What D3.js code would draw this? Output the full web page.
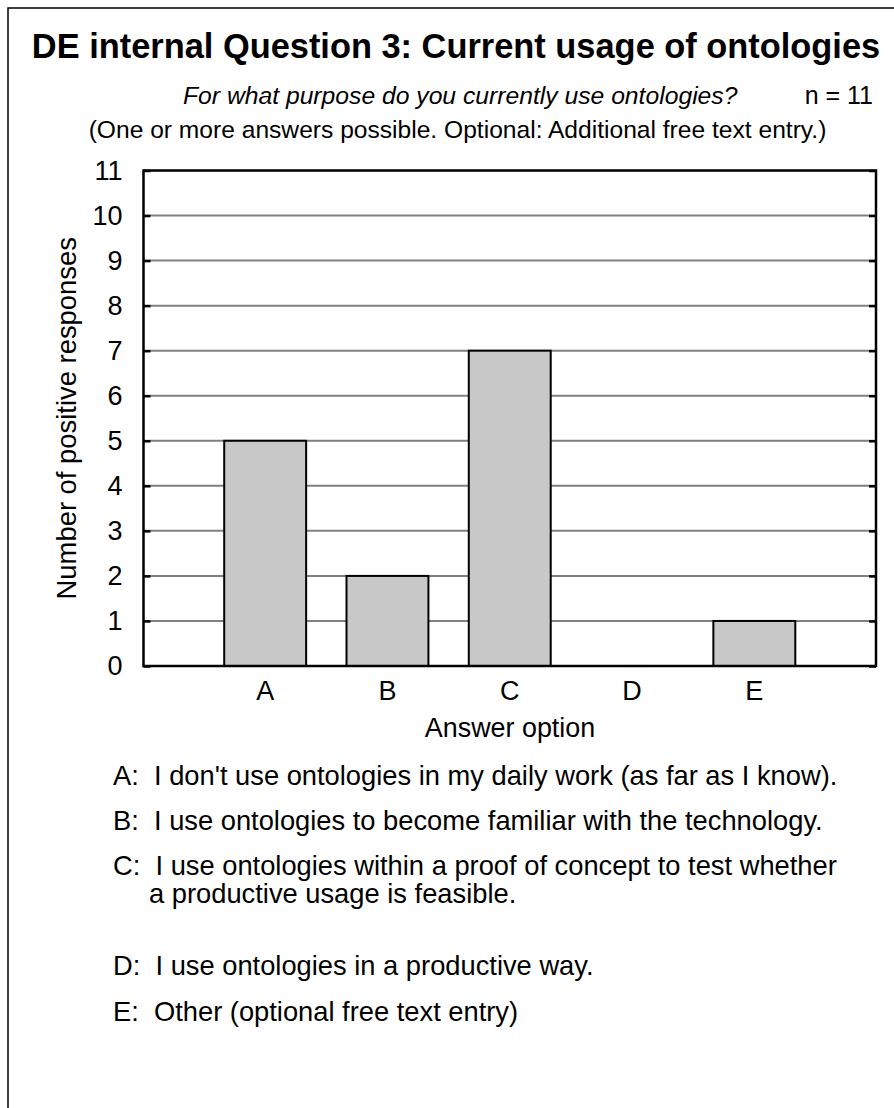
<!DOCTYPE html>
<meta charset="utf-8">
<style>
body { margin: 0; background: #fff; }
svg text { font-family: "Liberation Sans", Arial, sans-serif; fill: #000; }
.grid line { stroke: #808080; stroke-width: 2px; }
.bar { fill: #c8c8c8; stroke: #000; stroke-width: 2px; }
.frame { fill: none; stroke: #000; stroke-width: 2.5px; }
</style>
<body>
<div id="chart"></div>
</body>
<script src="https://d3js.org/d3.v7.min.js"></script>
<script>

// data
var categories = ["A", "B", "C", "D", "E"];
var counts = [5, 2, 7, 0, 1];
var yTicks = [0, 1, 2, 3, 4, 5, 6, 7, 8, 9, 10, 11];
var descriptions = [
  ["A:  I don't use ontologies in my daily work (as far as I know)."],
  ["B:  I use ontologies to become familiar with the technology."],
  ["C:  I use ontologies within a proof of concept to test whether", "a productive usage is feasible."],
  ["D:  I use ontologies in a productive way."],
  ["E:  Other (optional free text entry)"]
];

var width = 894, height = 1108;
var plot = {left: 143.5, right: 876, top: 170.5, bottom: 666};

var svg = d3.select("#chart").append("svg")
    .attr("width", width)
    .attr("height", height);

// outer border (runs off the right and bottom of the picture)
svg.append("rect")
    .attr("x", 8).attr("y", 8)
    .attr("width", 910).attr("height", 1130)
    .attr("fill", "none")
    .attr("stroke", "#000")
    .attr("stroke-width", 1.5);

// titles
svg.append("text")
    .attr("x", 456).attr("y", 58)
    .attr("text-anchor", "middle")
    .style("font-size", "34.4px")
    .style("font-weight", "bold")
    .text("DE internal Question 3: Current usage of ontologies");

svg.append("text")
    .attr("x", 183).attr("y", 104)
    .style("font-size", "24.7px")
    .style("font-style", "italic")
    .text("For what purpose do you currently use ontologies?");

svg.append("text")
    .attr("x", 873).attr("y", 104)
    .attr("text-anchor", "end")
    .style("font-size", "25px")
    .text("n = 11");

svg.append("text")
    .attr("x", 457.5).attr("y", 138)
    .attr("text-anchor", "middle")
    .style("font-size", "24.6px")
    .text("(One or more answers possible. Optional: Additional free text entry.)");

// scales
var x = d3.scaleBand()
    .domain(categories)
    .range([plot.left, plot.right])
    .paddingInner(0.33)
    .paddingOuter(0.66);

var y = d3.scaleLinear()
    .domain([0, 11])
    .range([plot.bottom, plot.top]);

// gridlines
svg.append("g")
    .attr("class", "grid")
  .selectAll("line")
    .data(yTicks.filter(function(d) { return d > 0 && d < 11; }))
  .enter().append("line")
    .attr("x1", plot.left).attr("x2", plot.right)
    .attr("y1", function(d) { return y(d); })
    .attr("y2", function(d) { return y(d); });

// bars
svg.selectAll(".bar")
    .data(counts)
  .enter().append("rect")
    .attr("class", "bar")
    .attr("x", function(d, i) { return x(categories[i]); })
    .attr("width", x.bandwidth())
    .attr("y", function(d) { return y(d); })
    .attr("height", function(d) { return y(0) - y(d); })
    .style("display", function(d) { return d > 0 ? null : "none"; });

// frame + inward ticks
svg.append("rect")
    .attr("class", "frame")
    .attr("x", plot.left).attr("y", plot.top)
    .attr("width", plot.right - plot.left)
    .attr("height", plot.bottom - plot.top);

var leftAxis = d3.axisLeft(y).tickValues(yTicks).tickSizeInner(-7).tickSizeOuter(0);
var gy = svg.append("g")
    .attr("transform", "translate(" + plot.left + ",0)")
    .call(leftAxis);
gy.select(".domain").remove();
gy.selectAll(".tick line").attr("stroke", "#000").attr("stroke-width", 2.5);
gy.selectAll(".tick text")
    .attr("x", -21)
    .attr("font-family", "Liberation Sans, Arial, sans-serif")
    .attr("font-size", 27);

var rightAxis = d3.axisRight(y).tickValues(yTicks).tickSizeInner(-7).tickSizeOuter(0).tickFormat("");
var gyr = svg.append("g")
    .attr("transform", "translate(" + plot.right + ",0)")
    .call(rightAxis);
gyr.select(".domain").remove();
gyr.selectAll(".tick line").attr("stroke", "#000").attr("stroke-width", 2.5);

var bottomAxis = d3.axisBottom(x).tickSize(0).tickPadding(15);
var gx = svg.append("g")
    .attr("transform", "translate(0," + plot.bottom + ")")
    .call(bottomAxis);
gx.select(".domain").remove();
gx.selectAll(".tick text")
    .attr("font-family", "Liberation Sans, Arial, sans-serif")
    .attr("font-size", 27);

// axis titles
svg.append("text")
    .attr("x", 510).attr("y", 737)
    .attr("text-anchor", "middle")
    .style("font-size", "26.9px")
    .text("Answer option");

svg.append("text")
    .attr("transform", "translate(76," + ((plot.top + plot.bottom) / 2) + ") rotate(-90)")
    .attr("text-anchor", "middle")
    .style("font-size", "27.4px")
    .text("Number of positive responses");

// answer descriptions
var descY = [785, 830, 875, 975, 1021];
var desc = svg.append("g").style("font-size", "27.3px");
descriptions.forEach(function(lines, i) {
  lines.forEach(function(line, j) {
    desc.append("text")
        .attr("x", j === 0 ? 113 : 149)
        .attr("y", descY[i] + j * 28)
        .attr("xml:space", "preserve")
        .style("white-space", "pre")
        .text(line);
  });
});

</script>
